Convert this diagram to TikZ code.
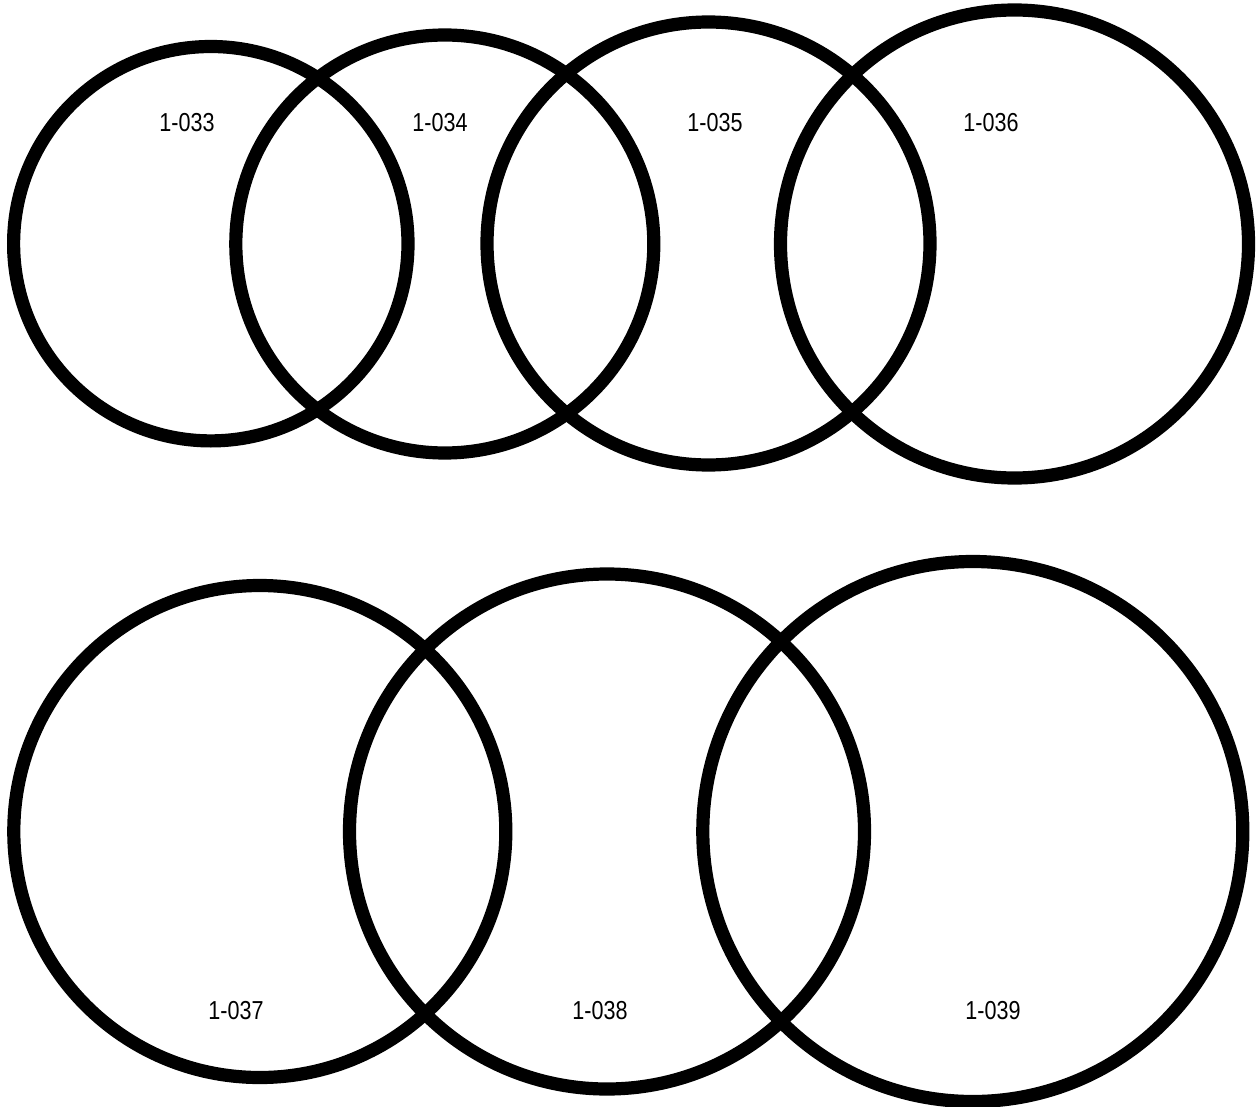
\documentclass[tikz,border=0pt]{standalone}
\usepackage{fontspec}
\setmainfont{Liberation Sans}[FakeStretch=0.83]
\usepackage{tikz}
\usetikzlibrary{positioning}
\tikzset{
  ring/.style={circle, draw=black, line width=6.6pt, inner sep=0pt, outer sep=0pt},
  tag/.style={inner sep=0pt, font=\fontsize{13}{14}\selectfont, text=black}
}

\begin{document}
\begin{tikzpicture}[x=0.5pt, y=-0.5pt]
  \useasboundingbox (0,0) rectangle (1257,1107);
  % upper row
  \node[ring, minimum size=197.2pt] (c33) at (210.8,243.7) {};
  \node[ring, minimum size=209pt] (c34) at (444.8,244) {};
  \node[ring, minimum size=221.5pt] (c35) at (708.5,243.5) {};
  \node[ring, minimum size=234pt] (c36) at (1014.5,244) {};
  \node[tag] (l33) at (187,123) {1-033};
  \node[tag] (l34) at (440,123) {1-034};
  \node[tag] (l35) at (715,123) {1-035};
  \node[tag] (l36) at (991,123) {1-036};
  % lower row
  \node[ring, minimum size=246pt] (c37) at (259.8,831.5) {};
  \node[ring, minimum size=257.5pt] (c38) at (607,831.5) {};
  \node[ring, minimum size=270pt] (c39) at (972.8,831.5) {};
  \node[tag] (l37) at (236,1011) {1-037};
  \node[tag] (l38) at (600,1011) {1-038};
  \node[tag] (l39) at (993,1011) {1-039};
\end{tikzpicture}
\end{document}
